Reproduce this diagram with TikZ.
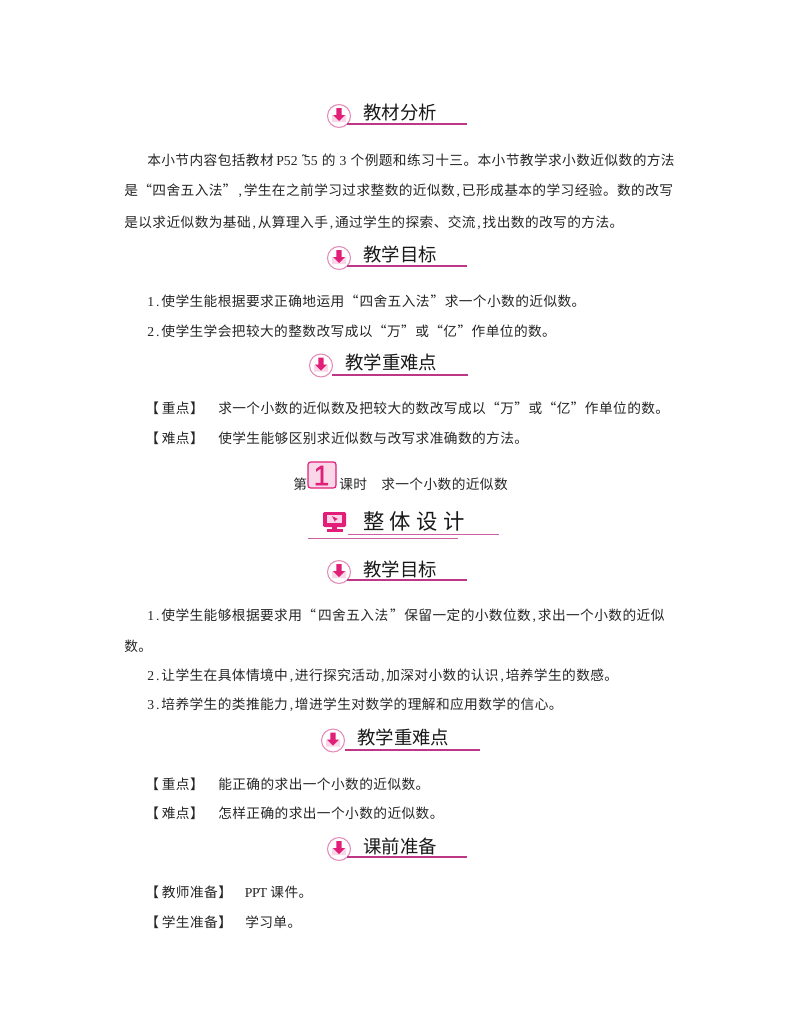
\documentclass[tikz,border=0pt]{standalone}
\usepackage{fontspec}
\newfontfamily\bodyf[LetterSpace=3]{Noto Sans CJK SC}
\newfontfamily\headf{Noto Sans CJK SC}
\newfontfamily\latf{Liberation Serif}
\newfontfamily\tilf{DejaVu Sans}
\newfontfamily\numf[FakeBold=1.5]{Liberation Sans}
\makeatletter
\newcommand{\lat}[1]{\@tfor\ch:=#1\do{\makebox[5.3pt]{\latf\ch}}}
\makeatother
\newcommand{\pxs}[1]{\hspace{#1pt}}
\definecolor{mag}{RGB}{190,55,135}
\definecolor{hot}{RGB}{225,30,120}
\definecolor{lightp}{RGB}{250,215,232}
\definecolor{ringp}{RGB}{228,140,185}
\tikzset{x=0.75pt,y=-0.75pt,
 bodytext/.style={anchor=west,inner sep=0pt,font=\fontsize{10.27pt}{11pt}\bodyf,text=black!85},
 headtext/.style={anchor=west,inner sep=0pt,font=\fontsize{13.8pt}{14pt}\headf,text=black!90},
 rule/.style={draw=mag,line width=0.9pt}}
\newcommand{\ico}[1]{%
 \path[draw=ringp,fill=white,line width=0.8pt] (#1) circle[radius=8.6pt];
 \path[fill=lightp] ([shift={(-7,-1)}]#1) -- ([shift={(-4,-1)}]#1) -- ([shift={(0,4)}]#1) -- ([shift={(4,-1)}]#1) -- ([shift={(7,-1)}]#1) -- ([shift={(7,6)}]#1) -- ([shift={(-7,6)}]#1) -- cycle;
 \path[fill=hot] ([shift={(-2.6,-8)}]#1) -- ([shift={(2.6,-8)}]#1) -- ([shift={(2.6,-1)}]#1) -- ([shift={(6,-1)}]#1) -- ([shift={(0,5)}]#1) -- ([shift={(-6,-1)}]#1) -- ([shift={(-2.6,-1)}]#1) -- cycle;}
\newcommand{\headg}[6]{% icon x, y, text x, text y, text, rule
 \coordinate (ic) at (#1,#2); \ico{ic}
 \node[headtext] at (#3,#4) {#5};
 \draw[rule] #6;}
\begin{document}
\begin{tikzpicture}
\useasboundingbox[fill=white] (0,0) rectangle (800,1028);
\headg{339}{116}{363}{113}{教材分析}{(347,124) -- (467,124)}
\node[bodytext] at (147,160) {本小节内容包括教材\pxs{2.2}\lat{P52}\pxs{2.2}\rlap{\tilf ˜}\pxs{2.2}\lat{55}\pxs{3}的\pxs{3}\lat{3}\pxs{3}个例题和练习十三。本小节教学求小数近似数的方法};
\node[bodytext] at (124,191) {是“四舍五入法”\lat{,}学生在之前学习过求整数的近似数\lat{,}已形成基本的学习经验。数的改写};
\node[bodytext] at (124,223) {是以求近似数为基础\lat{,}从算理入手\lat{,}通过学生的探索、交流\lat{,}找出数的改写的方法。};
\headg{339}{258}{363}{254}{教学目标}{(347,266) -- (467,266)}
\node[bodytext] at (147,301) {\lat{1.}使学生能根据要求正确地运用“\pxs{0.8}四舍五入法\pxs{0.8}”求一个小数的近似数。};
\node[bodytext] at (147,331) {\lat{2.}使学生学会把较大的整数改写成以“万”或“亿”作单位的数。};
\headg{321}{365.5}{345}{362}{教学重难点}{(332,375) -- (468,375)}
\node[bodytext] at (145,408) {【\pxs{2.2}重点】};
\node[bodytext] at (218,408) {求一个小数的近似数及把较大的数改写成以“万”或“亿”作单位的数。};
\node[bodytext] at (145,438) {【\pxs{2.2}难点】};
\node[bodytext] at (218,438) {使学生能够区别求近似数与改写求准确数的方法。};
\node[bodytext] at (293,484) {第};
\path[draw=hot,fill=lightp,line width=0.9pt,rounded corners=2pt] (308,462) rectangle (336,488);
\node[anchor=center,inner sep=0pt,font=\fontsize{21pt}{22pt}\numf,text=hot] at (321.5,475.5) {1};
\node[bodytext] at (339,484) {课时};
\node[bodytext] at (381,484) {求一个小数的近似数};
% monitor
\path[fill=hot,rounded corners=1pt] (323,512) rectangle (346,527);
\path[fill=lightp] (327,514.5) rectangle (342,523);
\path[fill=hot] (332,516) -- (338,519) -- (335.5,520) -- (335,522) -- cycle;
\path[fill=hot] (332,527) rectangle (337,529);
\path[fill=hot] (327,529) rectangle (343,532);
\node[headtext,font=\fontsize{16pt}{17pt}\headf] at (363,521) {整\pxs{4}体\pxs{4}设\pxs{4}计};
\draw[draw=mag!80,line width=0.5pt] (348,534.5) -- (499,534.5);
\draw[draw=mag!80,line width=0.5pt] (308,538.5) -- (458,538.5);
\headg{339}{572}{363}{569}{教学目标}{(347,580) -- (467,580)}
\node[bodytext] at (147,616) {\lat{1.}使学生能够根据要求用“\pxs{1.5}四舍五入法\pxs{1.5}”保留一定的小数位数\lat{,}求出一个小数的近似};
\node[bodytext] at (124,646) {数。};
\node[bodytext] at (147,676) {\lat{2.}让学生在具体情境中\lat{,}进行探究活动\lat{,}加深对小数的认识\lat{,}培养学生的数感。};
\node[bodytext] at (147,705) {\lat{3.}培养学生的类推能力\lat{,}增进学生对数学的理解和应用数学的信心。};
\headg{333}{740.5}{357}{737}{教学重难点}{(345,750) -- (480,750)}
\node[bodytext] at (145,784) {【\pxs{2.2}重点】};
\node[bodytext] at (218,784) {能正确的求出一个小数的近似数。};
\node[bodytext] at (145,813) {【\pxs{2.2}难点】};
\node[bodytext] at (218,813) {怎样正确的求出一个小数的近似数。};
\headg{339}{849}{363}{846}{课前准备}{(347,857) -- (467,857)}
\node[bodytext] at (145,892) {【\pxs{2.2}教师准备】};
\node[bodytext] at (245,892) {\lat{PPT}\pxs{3}课件。};
\node[bodytext] at (145,922) {【\pxs{2.2}学生准备】};
\node[bodytext] at (245,922) {学习单。};
\end{tikzpicture}
\end{document}
